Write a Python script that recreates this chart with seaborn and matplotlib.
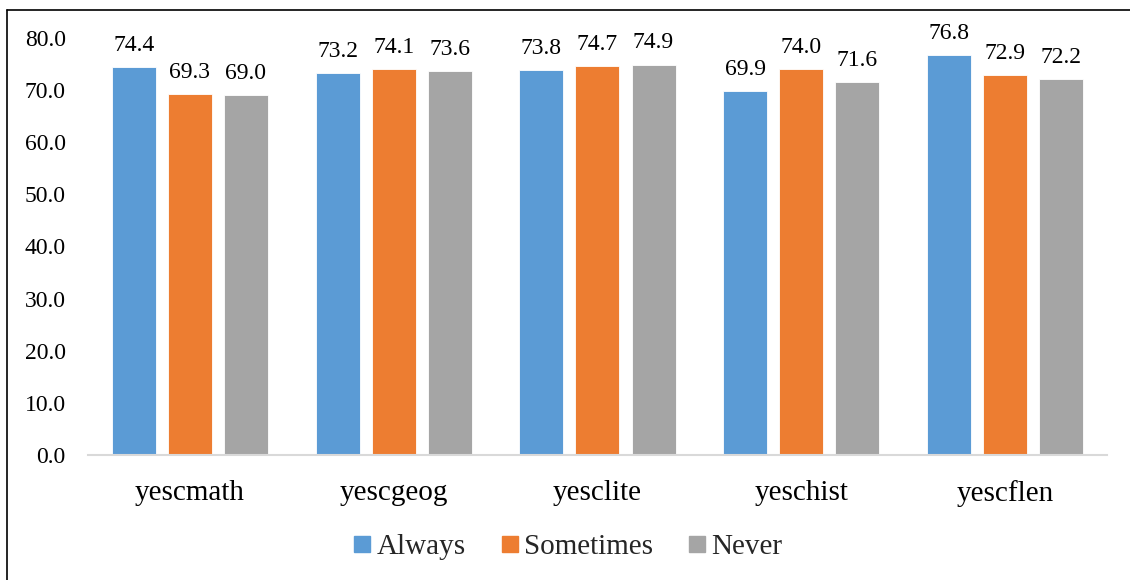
import matplotlib
matplotlib.use("Agg")
import matplotlib.pyplot as plt
import seaborn as sns
import pandas as pd
from matplotlib.lines import Line2D

# Subject scores by frequency group
categories = ["yescmath", "yescgeog", "yesclite", "yeschist", "yescflen"]
groups = ["Always", "Sometimes", "Never"]
always = [74.4, 73.2, 73.8, 69.9, 76.8]
sometimes = [69.3, 74.1, 74.7, 74.0, 72.9]
never = [69.0, 73.6, 74.9, 71.6, 72.2]
y_ticks = [0, 10, 20, 30, 40, 50, 60, 70, 80]

colors = ["#5B9BD5", "#ED7D31", "#A5A5A5"]

df = pd.DataFrame({
    "subject": categories * 3,
    "group": [g for g in groups for _ in categories],
    "value": always + sometimes + never,
})

sns.set_theme(style="white")
plt.rcParams["font.family"] = ["Liberation Serif", "DejaVu Serif"]

fig = plt.figure(figsize=(11.3, 5.8), dpi=100)
ax = fig.add_axes([0.0779, 0.2155, 0.9017, 0.719])

sns.barplot(data=df, x="subject", y="value", hue="group", order=categories,
            hue_order=groups, palette=colors, width=0.825, gap=0.215,
            edgecolor="white", linewidth=0.6, saturation=1, ax=ax, legend=False)

for cont in ax.containers:
    ax.bar_label(cont, fmt="%.1f", padding=8, fontsize=17, color="black")

ax.set_ylim(0, 80)
ax.set_xlim(-0.5, 4.5)
ax.set_yticks(y_ticks)
ax.set_yticklabels([f"{v:.1f}" for v in y_ticks], fontsize=17, color="black")
ax.tick_params(axis="y", length=0, pad=16)
ax.tick_params(axis="x", length=0, pad=18, labelsize=21, labelcolor="black")
ax.set_xlabel("")
ax.set_ylabel("")
for side in ["top", "right", "left"]:
    ax.spines[side].set_visible(False)
ax.spines["bottom"].set_color("#D9D9D9")
ax.spines["bottom"].set_linewidth(1.5)
ax.grid(False)

handles = [Line2D([0], [0], marker="s", linestyle="none", markersize=11,
                  markerfacecolor=c, markeredgecolor=c) for c in colors]
fig.legend(handles, groups, loc="center", bbox_to_anchor=(0.5, 0.057), ncol=3,
           frameon=False, fontsize=21, handletextpad=0.0, columnspacing=1.0,
           handlelength=1.0)

# Outer chart frame (left and top edges)
fig.add_artist(Line2D([7 / 1130, 7 / 1130], [0, 1 - 10 / 580], color="black",
                      linewidth=1.2, transform=fig.transFigure))
fig.add_artist(Line2D([7 / 1130, 1], [1 - 10 / 580, 1 - 10 / 580], color="black",
                      linewidth=1.2, transform=fig.transFigure))

fig.savefig("out.png", dpi=100)
